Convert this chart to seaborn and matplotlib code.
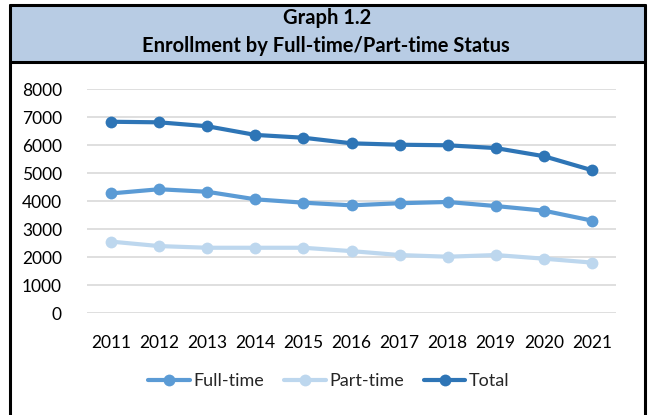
import matplotlib
matplotlib.use("Agg")
import matplotlib.pyplot as plt
import seaborn as sns
import pandas as pd
from matplotlib.patches import Rectangle
from matplotlib.lines import Line2D

years = ["2011", "2012", "2013", "2014", "2015", "2016", "2017", "2018", "2019", "2020", "2021"]
full_time = [4270, 4420, 4330, 4060, 3940, 3845, 3920, 3965, 3820, 3655, 3300]
part_time = [2550, 2390, 2330, 2330, 2330, 2210, 2070, 2010, 2070, 1940, 1800]
total = [6830, 6810, 6670, 6360, 6260, 6060, 6010, 5990, 5890, 5600, 5100]
series = ["Full-time", "Part-time", "Total"]
colors = ["#5B9BD5", "#BDD7EE", "#2E75B6"]
title_lines = ["Graph 1.2", "Enrollment by Full-time/Part-time Status"]
yticks = [0, 1000, 2000, 3000, 4000, 5000, 6000, 7000, 8000]

df = pd.DataFrame({
    "Year": years * 3,
    "Value": full_time + part_time + total,
    "Series": [series[0]] * len(years) + [series[1]] * len(years) + [series[2]] * len(years),
})

sns.set_theme(style="white")
plt.rcParams["font.family"] = ["Lato", "DejaVu Sans"]

W, H = 649, 415
fig = plt.figure(figsize=(W / 100, H / 100), dpi=100)

def fx(px):
    return px / W

def fy(py):
    return 1 - py / H

# title band
fig.patches.append(Rectangle((fx(9), fy(62)), fx(645) - fx(9), fy(5) - fy(62),
                             transform=fig.transFigure, facecolor="#B8CCE4",
                             edgecolor="none", zorder=0))
# frame lines
lw_frame = 2.2
fig.add_artist(Line2D([fx(9.5), fx(9.5)], [fy(5.5), fy(416)], transform=fig.transFigure, color="black", lw=lw_frame))
fig.add_artist(Line2D([fx(645), fx(645)], [fy(5.5), fy(416)], transform=fig.transFigure, color="black", lw=lw_frame))
fig.add_artist(Line2D([fx(9.5), fx(645)], [fy(5.5), fy(5.5)], transform=fig.transFigure, color="black", lw=lw_frame))
fig.add_artist(Line2D([fx(9.5), fx(645)], [fy(62), fy(62)], transform=fig.transFigure, color="black", lw=lw_frame))

fig.text(fx(327), fy(18), title_lines[0], ha="center", va="center", fontsize=14.5, fontweight="bold", color="#000000")
fig.text(fx(326), fy(46), title_lines[1], ha="center", va="center", fontsize=14.5, fontweight="bold", color="#000000")

ax = fig.add_axes([fx(87), fy(313), fx(616) - fx(87), fy(89) - fy(313)])
sns.lineplot(data=df, x="Year", y="Value", hue="Series", palette=colors, hue_order=series,
             marker="o", markersize=8.5, linewidth=3, markeredgewidth=0, ax=ax,
             legend=False, clip_on=False, sort=False)

ax.set_xlim(-0.5, len(years) - 0.5)
ax.set_ylim(0, 8000)
ax.set_yticks(yticks)
ax.set_yticklabels([str(v) for v in yticks], fontsize=12.5, color="#000000")
ax.set_xticks(range(len(years)))
ax.set_xticklabels(years, fontsize=12.5, color="#000000")
ax.tick_params(axis="both", length=0)
ax.tick_params(axis="y", pad=18)
ax.tick_params(axis="x", pad=16)
ax.set_xlabel("")
ax.set_ylabel("")
ax.grid(axis="y", color="#D9D9D9", linewidth=1.2)
ax.set_axisbelow(True)
for s in ax.spines.values():
    s.set_visible(False)

handles = [Line2D([0], [0], color=c, lw=3, marker="o", markersize=8.5, markeredgewidth=0) for c in colors]
leg = fig.legend(handles, series, loc="center", bbox_to_anchor=(fx(329), fy(381)), ncol=3,
                 frameon=False, fontsize=13, handlelength=2.3, handletextpad=0.2,
                 columnspacing=1.1)

fig.savefig("out.png", dpi=100)
